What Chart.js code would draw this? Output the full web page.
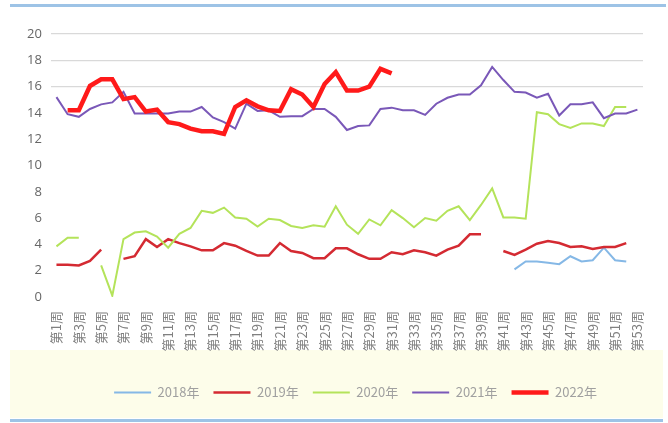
<!DOCTYPE html>
<html>
<head>
<meta charset="utf-8">
<script src="https://cdn.jsdelivr.net/npm/chart.js@4/dist/chart.umd.min.js"></script>
<style>
  html, body { margin: 0; padding: 0; background: #fff; }
  #wrap { position: relative; width: 668px; height: 423px; overflow: hidden; }
  .band { position: absolute; left: 10px; top: 350px; width: 653px; height: 68px; background: #fdfdea; }
  .topline { position: absolute; left: 10px; top: 4px; width: 656px; height: 3px; background: #9dc3e6; }
  .botline { position: absolute; left: 10px; top: 419px; width: 653px; height: 3px; background: #9dc3e6; }
  canvas { position: absolute; left: 0; top: 0; }
</style>
</head>
<body>
<div id="wrap">
  <div class="band"></div>
  <div class="topline"></div>
  <div class="botline"></div>
  <canvas id="chart" width="668" height="423"></canvas>
</div>
<script>
// weeks 1..53
var weeks = [];
for (var i = 1; i <= 53; i++) { weeks.push('第' + i + '周'); }

var yTicks = [0, 2, 4, 6, 8, 10, 12, 14, 16, 18, 20];

var seriesNames = ['2018年', '2019年', '2020年', '2021年', '2022年'];

var y2018 = [null, null, null, null, null, null, null, null, null, null,
  null, null, null, null, null, null, null, null, null, null,
  null, null, null, null, null, null, null, null, null, null,
  null, null, null, null, null, null, null, null, null, null,
  null, 2.1, 2.7, 2.7, 2.6, 2.5, 3.1, 2.7, 2.8, 3.75,
  2.8, 2.7, null];

var y2019 = [2.45, 2.45, 2.4, 2.75, 3.6, null, 2.9, 3.1, 4.4, 3.8,
  4.4, 4.1, 3.85, 3.55, 3.55, 4.1, 3.9, 3.5, 3.15, 3.15,
  4.1, 3.5, 3.35, 2.95, 2.95, 3.7, 3.7, 3.25, 2.9, 2.9,
  3.4, 3.25, 3.55, 3.4, 3.15, 3.6, 3.9, 4.77, 4.77, null,
  3.5, 3.2, 3.6, 4.05, 4.25, 4.1, 3.8, 3.85, 3.65, 3.8,
  3.8, 4.1, null];

var y2020 = [3.85, 4.5, 4.5, null, 2.4, 0.1, 4.4, 4.9, 5.0, 4.6,
  3.75, 4.8, 5.25, 6.55, 6.4, 6.8, 6.05, 5.95, 5.35, 5.95,
  5.85, 5.4, 5.25, 5.45, 5.35, 6.9, 5.5, 4.8, 5.9, 5.45,
  6.6, 6.0, 5.3, 6.0, 5.8, 6.55, 6.9, 5.85, 7.0, 8.25,
  6.05, 6.05, 5.95, 14.05, 13.9, 13.15, 12.85, 13.2, 13.2, 13.0,
  14.45, 14.45, null];

var y2021 = [15.2, 13.9, 13.7, 14.3, 14.65, 14.8, 15.6, 13.95, 13.95, 13.95,
  13.95, 14.1, 14.1, 14.45, 13.65, 13.3, 12.8, 14.7, 14.15, 14.2,
  13.7, 13.75, 13.75, 14.3, 14.3, 13.7, 12.7, 13.0, 13.05, 14.3,
  14.4, 14.2, 14.2, 13.85, 14.7, 15.15, 15.4, 15.4, 16.1, 17.5,
  16.5, 15.6, 15.55, 15.15, 15.45, 13.8, 14.65, 14.65, 14.8, 13.6,
  13.95, 13.95, 14.25];

var y2022 = [null, 14.2, 14.2, 16.05, 16.55, 16.55, 15.05, 15.2, 14.1, 14.25,
  13.3, 13.15, 12.8, 12.6, 12.6, 12.4, 14.45, 14.95, 14.5, 14.2,
  14.15, 15.8, 15.4, 14.45, 16.2, 17.1, 15.7, 15.7, 16.0, 17.35,
  17.0];

var colors = ['#85b8e6', '#d42a32', '#b4e35a', '#7a58b8', '#ff1a1a'];
var widths = [2, 2.5, 2, 2, 4.5];
var values = [y2018, y2019, y2020, y2021, y2022];

var datasets = seriesNames.map(function(name, k) {
  return {
    label: name,
    data: values[k],
    borderColor: colors[k],
    backgroundColor: colors[k],
    borderWidth: widths[k],
    pointRadius: 0,
    pointStyle: 'line',
    tension: 0,
    spanGaps: false,
    order: k === 4 ? 0 : 5 - k
  };
});

// the legend sits a little right of centre (and a bit higher) in the original
var legendShift = {
  id: 'legendShift',
  afterLayout: function(chart) {
    chart.legend.left += 25;
    chart.legend.right += 25;
    chart.legend.top -= 5;
    chart.legend.bottom -= 5;
  }
};

var ctx = document.getElementById('chart').getContext('2d');
new Chart(ctx, {
  type: 'line',
  data: { labels: weeks, datasets: datasets },
  plugins: [legendShift],
  options: {
    responsive: false,
    animation: false,
    layout: { padding: { left: 18, right: 25, top: 34, bottom: 9 } },
    plugins: {
      tooltip: { enabled: false },
      legend: {
        position: 'bottom',
        labels: {
          usePointStyle: true,
          pointStyle: 'line',
          pointStyleWidth: 37,
          padding: 14,
          color: '#a0a0a0',
          font: { size: 13, family: '"Noto Sans CJK SC", "DejaVu Sans", sans-serif' },
          sort: function(a, b) { return a.datasetIndex - b.datasetIndex; }
        }
      }
    },
    scales: {
      x: {
        offset: true,
        grid: { display: false, drawTicks: false },
        border: { display: false },
        afterFit: function(scale) { scale.height = 80; },
        ticks: {
          autoSkip: false,
          minRotation: 90,
          maxRotation: 90,
          padding: 14,
          color: '#808080',
          font: { size: 13, family: '"Noto Sans CJK SC", sans-serif' },
          callback: function(val, idx) { return idx % 2 === 0 ? this.getLabelForValue(val) : ''; }
        }
      },
      y: {
        min: 0,
        max: 20,
        afterBuildTicks: function(scale) {
          scale.ticks = yTicks.map(function(v) { return { value: v }; });
        },
        border: { display: false },
        grid: {
          drawTicks: false,
          lineWidth: 1.2,
          color: function(c) { return c.tick && c.tick.value >= 16 ? '#d9d9d9' : 'rgba(0,0,0,0)'; }
        },
        ticks: {
          padding: 9,
          color: '#666666',
          font: { size: 13, family: '"Open Sans", "DejaVu Sans", sans-serif' }
        }
      }
    }
  }
});
</script>
</body>
</html>
